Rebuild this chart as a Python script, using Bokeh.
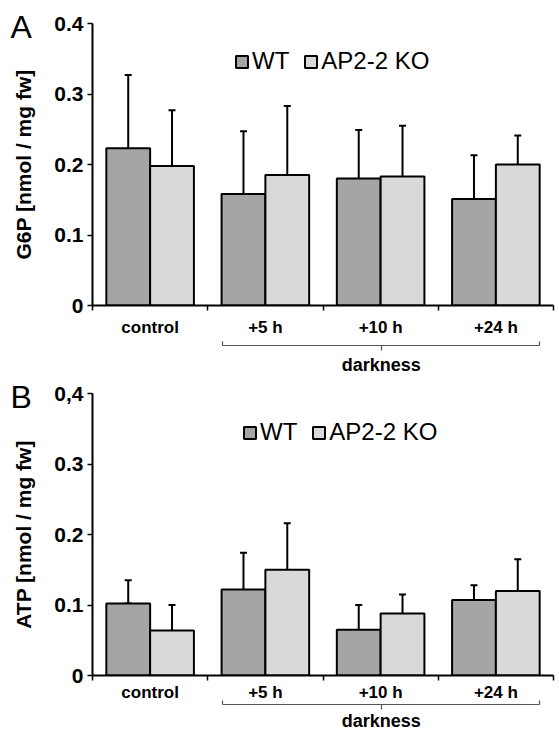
import numpy as np
from bokeh.plotting import figure
from bokeh.models import (ColumnDataSource, FixedTicker, LinearAxis, Whisker, TeeHead,
                          Legend, LegendItem, Title, Range1d)
from bokeh.layouts import column
from bokeh.embed import file_html
from bokeh.resources import INLINE

# ---------------- data ----------------
categories = ["control", "+5 h", "+10 h", "+24 h"]
group_label = "darkness"
series_names = ["WT", "AP2-2 KO"]
y_ticks = [0, 0.1, 0.2, 0.3, 0.4]
g6p_tick_labels = ["0", "0.1", "0.2", "0.3", "0.4"]
atp_tick_labels = ["0", "0.1", "0.2", "0.3", "0,4"]

g6p_wt = [0.223, 0.158, 0.180, 0.151]
g6p_wt_err_up = [0.104, 0.089, 0.069, 0.062]
g6p_wt_err_dn = [0.111, 0.094, 0.073, 0.069]
g6p_ko = [0.198, 0.185, 0.183, 0.200]
g6p_ko_err_up = [0.079, 0.098, 0.072, 0.041]
g6p_ko_err_dn = [0.081, 0.100, 0.075, 0.042]

atp_wt = [0.102, 0.122, 0.065, 0.107]
atp_wt_err_up = [0.033, 0.052, 0.035, 0.021]
atp_wt_err_dn = [0.000, 0.055, 0.038, 0.027]
atp_ko = [0.064, 0.150, 0.088, 0.120]
atp_ko_err_up = [0.036, 0.066, 0.027, 0.045]
atp_ko_err_dn = [0.037, 0.072, 0.027, 0.045]

# ---------------- style ----------------
FONT = "Liberation Sans"
WT_COLOR = "#a5a5a5"
KO_COLOR = "#d9d9d9"
BAR_W = 0.38


def make_panel(letter, letter_drop, ylabel, tick_labels, wt, wt_up, wt_dn, ko, ko_up, ko_dn,
               height, top, bottom, s1, spacer, s2, legend_xy):
    n = len(categories)
    centers = np.arange(n) + 0.5
    p = figure(width=559, height=height, x_range=Range1d(0, n), y_range=Range1d(0, 0.4),
               output_backend="svg", toolbar_location=None,
               x_axis_type=None, y_axis_type=None,
               min_border_left=92, min_border_right=6,
               min_border_top=top, min_border_bottom=bottom)
    p.outline_line_color = None
    p.xgrid.visible = False
    p.ygrid.visible = False

    # panel letter as a left-aligned title pulled down next to the top tick
    p.title = Title(text=letter, align="left", offset=-82, standoff=-2 * letter_drop,
                    text_font=FONT, text_font_size="32px", text_font_style="normal",
                    text_color="black")

    renderers = []
    for vals, up, dn, col, off in ((wt, wt_up, wt_dn, WT_COLOR, -BAR_W / 2),
                                   (ko, ko_up, ko_dn, KO_COLOR, BAR_W / 2)):
        v = np.array(vals)
        src = ColumnDataSource(dict(x=centers + off, top=v,
                                    upper=v + np.array(up), lower=v - np.array(dn)))
        r = p.vbar(x="x", top="top", width=BAR_W, source=src, fill_color=col,
                   line_color="black", line_width=2)
        renderers.append(r)
        w = Whisker(base="x", upper="upper", lower="lower", source=src,
                    line_color="black", line_width=2,
                    upper_head=TeeHead(size=7, line_color="black", line_width=2),
                    lower_head=TeeHead(size=7, line_color="black", line_width=2))
        p.add_layout(w)

    # y axis
    yax = LinearAxis(ticker=FixedTicker(ticks=y_ticks, minor_ticks=[]),
                     major_label_overrides={t: l for t, l in zip(y_ticks, tick_labels)},
                     axis_label=ylabel)
    yax.axis_line_width = 2
    yax.axis_line_color = "black"
    yax.major_tick_line_width = 1.5
    yax.major_tick_out = 5
    yax.major_tick_in = 0
    yax.major_label_standoff = 4
    yax.major_label_text_font = FONT
    yax.major_label_text_font_style = "bold"
    yax.major_label_text_font_size = "21px"
    yax.major_label_text_color = "black"
    yax.axis_label_text_font = FONT
    yax.axis_label_text_font_style = "bold"
    yax.axis_label_text_font_size = "21px"
    yax.axis_label_text_color = "black"
    yax.axis_label_standoff = 16
    p.add_layout(yax, "left")

    # x axis (category labels centred, ticks at category boundaries)
    xax = LinearAxis(ticker=FixedTicker(ticks=list(centers), minor_ticks=list(range(n + 1))),
                     major_label_overrides={float(c): l for c, l in zip(centers, categories)})
    xax.axis_line_width = 2
    xax.axis_line_color = "black"
    xax.major_tick_line_color = None
    xax.major_tick_out = 0
    xax.major_tick_in = 0
    xax.minor_tick_line_color = "black"
    xax.minor_tick_line_width = 1.5
    xax.minor_tick_out = 5
    xax.minor_tick_in = 0
    xax.major_label_standoff = s1
    xax.major_label_text_font = FONT
    xax.major_label_text_font_style = "bold"
    xax.major_label_text_font_size = "17px"
    xax.major_label_text_line_height = 1.0
    xax.major_label_text_color = "black"
    if spacer > 0:
        xax.axis_label = " "
        xax.axis_label_text_font_size = "1px"
        xax.axis_label_standoff = spacer
    p.add_layout(xax, "below")

    # bracket axis for the "darkness" group
    b0, b1 = 1.13, n - 0.12
    bax = LinearAxis(ticker=FixedTicker(ticks=[(b0 + b1) / 2], minor_ticks=[b0, b1]),
                     bounds=(b0, b1),
                     major_label_overrides={(b0 + b1) / 2: group_label})
    bax.axis_line_width = 1.2
    bax.axis_line_color = "#555555"
    bax.major_tick_line_color = "#555555"
    bax.major_tick_line_width = 1.2
    bax.major_tick_out = 5
    bax.major_tick_in = 0
    bax.minor_tick_line_color = "#555555"
    bax.minor_tick_line_width = 1.2
    bax.minor_tick_in = 4
    bax.minor_tick_out = 0
    bax.major_label_standoff = s2
    bax.major_label_text_font = FONT
    bax.major_label_text_font_style = "bold"
    bax.major_label_text_font_size = "18px"
    bax.major_label_text_line_height = 1.0
    bax.major_label_text_color = "black"
    p.add_layout(bax, "below")

    legend = Legend(items=[LegendItem(label=series_names[0], renderers=[renderers[0]]),
                           LegendItem(label=series_names[1], renderers=[renderers[1]])],
                    location=legend_xy, orientation="horizontal",
                    glyph_width=15, glyph_height=15, label_standoff=3, spacing=14,
                    padding=0, margin=0, border_line_color=None, background_fill_alpha=0,
                    label_text_font=FONT, label_text_font_size="24px",
                    label_text_color="black")
    p.add_layout(legend)
    return p


pA = make_panel("A", 21, "G6P [nmol / mg fw]", g6p_tick_labels,
                g6p_wt, g6p_wt_err_up, g6p_wt_err_dn, g6p_ko, g6p_ko_err_up, g6p_ko_err_dn,
                height=377, top=23, bottom=71, s1=7, spacer=2, s2=4, legend_xy=(142, 230))
pB = make_panel("B", 21, "ATP [nmol / mg fw]", atp_tick_labels,
                atp_wt, atp_wt_err_up, atp_wt_err_dn, atp_ko, atp_ko_err_up, atp_ko_err_dn,
                height=361, top=16, bottom=63, s1=2, spacer=0, s2=1, legend_xy=(150, 229))

layout = column(pA, pB)
open("out.html", "w").write(file_html(layout, INLINE))
